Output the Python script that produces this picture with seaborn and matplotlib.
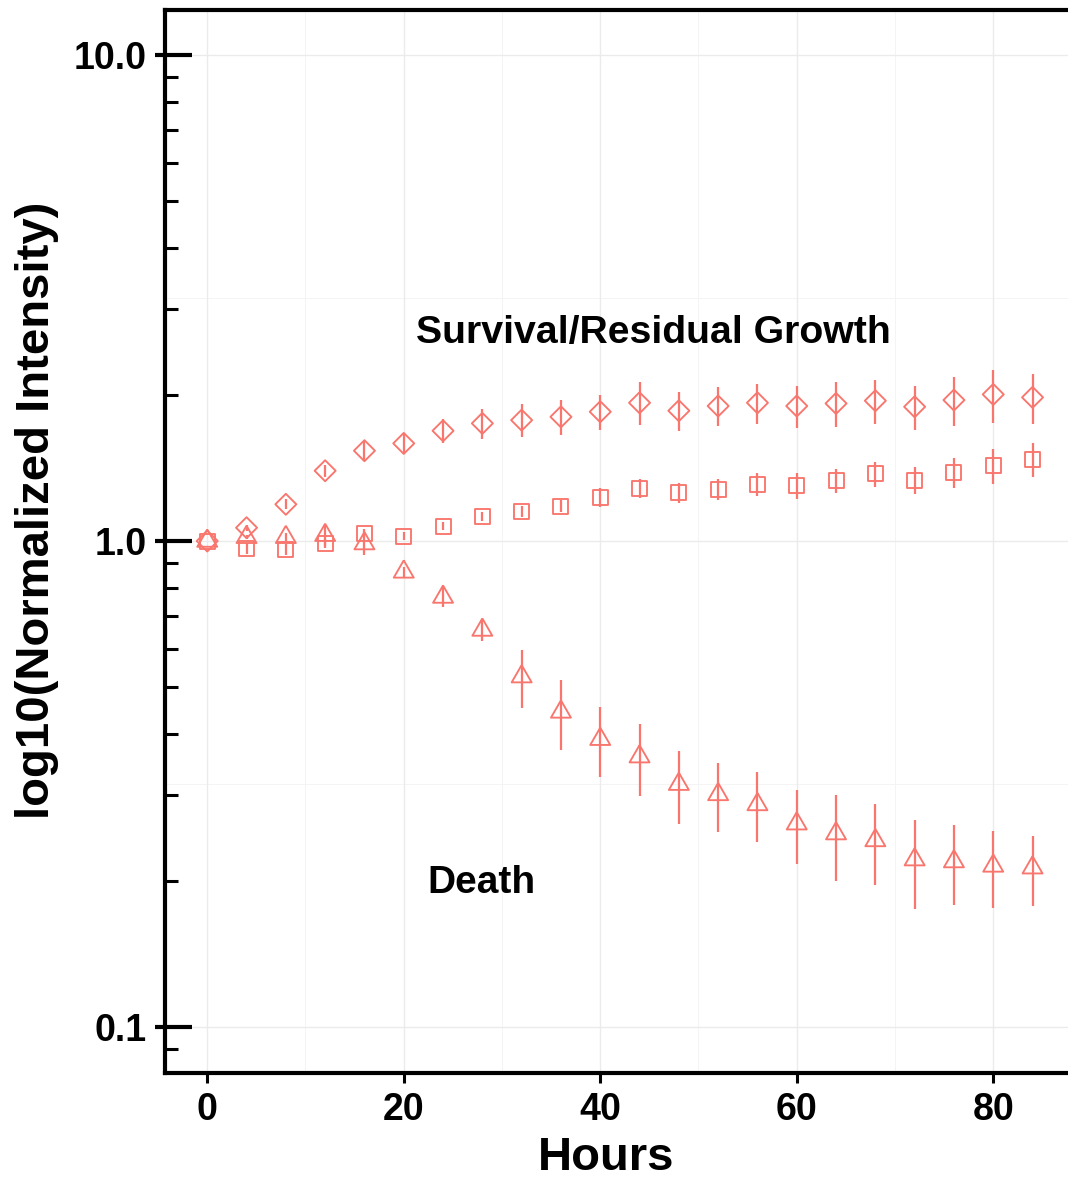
import numpy as np
import pandas as pd
import matplotlib
matplotlib.use("Agg")
import matplotlib.pyplot as plt
import seaborn as sns
from matplotlib.markers import MarkerStyle
from matplotlib.ticker import FixedLocator, FixedFormatter

# ---------------- data ----------------
hours = [0, 4, 8, 12, 16, 20, 24, 28, 32, 36, 40, 44, 48, 52, 56, 60, 64, 68, 72, 76, 80, 84]

survival_mean = [1.0, 1.065, 1.19, 1.395, 1.534, 1.588, 1.686, 1.746, 1.773, 1.801, 1.845,
                 1.925, 1.854, 1.896, 1.925, 1.896, 1.919, 1.944, 1.889, 1.95, 2.003, 1.975]
survival_se = [0.0, 0.015, 0.028, 0.039, 0.074, 0.078, 0.093, 0.124, 0.138, 0.149, 0.153,
               0.196, 0.17, 0.174, 0.181, 0.19, 0.205, 0.2, 0.2, 0.224, 0.25, 0.235]

residual_mean = [1.0, 0.967, 0.962, 0.989, 1.037, 1.023, 1.072, 1.124, 1.149, 1.180, 1.228,
                 1.284, 1.257, 1.277, 1.308, 1.299, 1.331, 1.374, 1.335, 1.382, 1.429, 1.473]
residual_se = [0.0, 0.025, 0.025, 0.02, 0.02, 0.02, 0.02, 0.025, 0.03, 0.035, 0.055,
               0.057, 0.061, 0.065, 0.072, 0.079, 0.075, 0.082, 0.087, 0.097, 0.12, 0.117]

death_mean = [1.0, 1.018, 1.018, 1.028, 0.988, 0.864, 0.767, 0.656, 0.526, 0.445, 0.391,
              0.360, 0.316, 0.301, 0.287, 0.262, 0.250, 0.242, 0.221, 0.219, 0.2145, 0.2127]
death_se = [0.0, 0.01, 0.02, 0.05, 0.05, 0.02, 0.036, 0.034, 0.072, 0.073, 0.064,
            0.061, 0.054, 0.049, 0.047, 0.046, 0.05, 0.046, 0.046, 0.041, 0.039, 0.035]

groups = ["Survival", "Residual", "Death"]
x_ticks = [0, 20, 40, 60, 80]
y_ticks = [0.1, 1.0, 10.0]
y_tick_labels = ["0.1", "1.0", "10.0"]
x_label = "Hours"
y_label = "log10(Normalized Intensity)"
label_survival = "Survival/Residual Growth"
label_death = "Death"

# ---------------- style ----------------
sns.set_style("white")
plt.rcParams["font.family"] = ["Liberation Sans", "DejaVu Sans"]
plt.rcParams["font.weight"] = "bold"
plt.rcParams["axes.labelweight"] = "bold"
plt.rcParams["text.color"] = "black"
plt.rcParams["axes.labelcolor"] = "black"
plt.rcParams["xtick.color"] = "black"
plt.rcParams["ytick.color"] = "black"
plt.rcParams["xtick.bottom"] = True
plt.rcParams["ytick.left"] = True

color = "#F8766D"

df = pd.concat([
    pd.DataFrame({"Hours": hours, "Value": survival_mean, "SE": survival_se, "Group": "Survival"}),
    pd.DataFrame({"Hours": hours, "Value": residual_mean, "SE": residual_se, "Group": "Residual"}),
    pd.DataFrame({"Hours": hours, "Value": death_mean, "SE": death_se, "Group": "Death"}),
], ignore_index=True)

fig = plt.figure(figsize=(10.68, 11.81), dpi=100)
ax = fig.add_axes([165 / 1068, 108 / 1181, 908.8 / 1068, 1063 / 1181])
ax.set_yscale("log")

# error bars
for g in groups:
    sub = df[df["Group"] == g]
    ax.errorbar(sub["Hours"], sub["Value"], yerr=sub["SE"], fmt="none",
                ecolor=color, elinewidth=1.6, capsize=0, zorder=3)

tri = MarkerStyle([(0, 1), (-0.866, -0.5), (0.866, -0.5), (0, 1)])
markers = {"Survival": MarkerStyle("D"), "Residual": MarkerStyle("s"), "Death": tri}
sizes = {"Survival": 10.7 ** 2, "Residual": 10.8 ** 2, "Death": 16.6 ** 2}

sns.scatterplot(data=df, x="Hours", y="Value", style="Group", size="Group",
                markers=markers, sizes=sizes, style_order=groups, size_order=groups,
                color=color, facecolor="none", edgecolor=color, linewidth=1.35,
                legend=False, ax=ax, zorder=4)

# limits
ax.set_xlim(-4.3, 88.2)
ax.set_ylim(0.0804, 12.38)

# ticks
ax.xaxis.set_major_locator(FixedLocator(x_ticks))
ax.xaxis.set_minor_locator(FixedLocator([10, 30, 50, 70]))
ax.yaxis.set_major_locator(FixedLocator(y_ticks))
ax.yaxis.set_major_formatter(FixedFormatter(y_tick_labels))
minor_y = [0.09] + [k * 0.1 for k in range(2, 10)] + [float(k) for k in range(2, 10)]
ax.yaxis.set_minor_locator(FixedLocator(minor_y))
ax.yaxis.set_minor_formatter(FixedFormatter([""] * len(minor_y)))

ax.tick_params(axis="x", which="major", bottom=True, direction="out", length=7, width=2.2,
               labelsize=27, pad=7, colors="black")
ax.tick_params(axis="x", which="minor", bottom=False, length=0)
ax.tick_params(axis="y", which="major", left=True, direction="out", length=7.2, width=3,
               labelsize=27, pad=6, colors="black")
ax.tick_params(axis="y", which="minor", left=True, direction="in", length=9.4, width=2.2,
               colors="black")
for lab in ax.get_xticklabels() + ax.get_yticklabels():
    lab.set_fontweight("bold")

# long inside log-ticks at the decades (annotation-style log ticks)
ytrans = ax.get_yaxis_transform()
for v in y_ticks:
    ax.plot([0, 27 / 908.8], [v, v], transform=ytrans, color="black", lw=3,
            solid_capstyle="butt", clip_on=False, zorder=6)

# grid
ax.grid(which="major", color="#EBEBEB", linewidth=1.0, zorder=0)
ax.grid(which="minor", axis="x", color="#F4F4F4", linewidth=0.7, zorder=0)
for v in [10 ** -0.5, 10 ** 0.5]:
    ax.axhline(v, color="#F4F4F4", linewidth=0.7, zorder=0)
ax.set_axisbelow(True)

# spines
for s in ["left", "bottom", "top"]:
    ax.spines[s].set_visible(True)
    ax.spines[s].set_color("black")
    ax.spines[s].set_linewidth(3)
ax.spines["right"].set_visible(False)

# labels
ax.set_xlabel(x_label, fontsize=34, fontweight="bold", color="black")
ax.set_ylabel(y_label, fontsize=34, fontweight="bold", color="black")
ax.xaxis.set_label_coords((606 - 165) / 908.8, (1073 - 1136) / 1063)
ax.yaxis.set_label_coords((59 - 165) / 908.8, (1073 - 510) / 1063)

ax.text(45.4, 2.68, label_survival, ha="center", va="center", fontsize=28.3,
        fontweight="bold", color="black")
ax.text(27.9, 0.198, label_death, ha="center", va="center", fontsize=28,
        fontweight="bold", color="black")

fig.savefig("out.png", dpi=100)
